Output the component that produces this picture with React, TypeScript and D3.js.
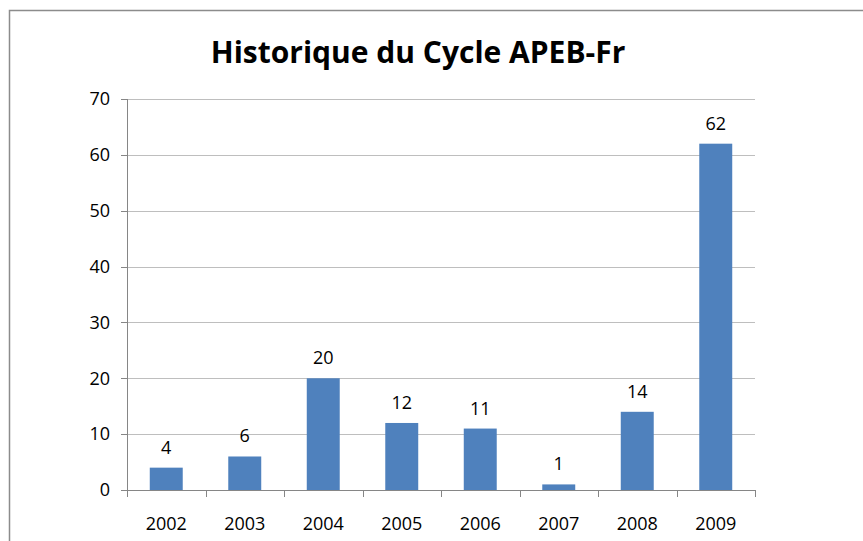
import React, { useEffect, useRef } from "react";
import * as d3 from "d3";

const years = ["2002", "2003", "2004", "2005", "2006", "2007", "2008", "2009"];
const counts = [4, 6, 20, 12, 11, 1, 14, 62];
const yTicks = [0, 10, 20, 30, 40, 50, 60, 70];
const chartTitle = "Historique du Cycle APEB-Fr";

export default function App() {
    const ref = useRef<SVGSVGElement | null>(null);

    useEffect(() => {
        const svg = d3.select(ref.current);
        svg.selectAll("*").remove();

        const W = 863;
        const H = 541;
        const left = 127;
        const right = 755;
        const top = 99;
        const bottom = 490;
        const font = "Open Sans, sans-serif";
        const labelSize = 18;

        // outer chart frame (runs off the right and bottom edges)
        svg.append("rect")
            .attr("x", 9.5)
            .attr("y", 10.5)
            .attr("width", W + 20)
            .attr("height", H + 20)
            .attr("fill", "#fff")
            .attr("stroke", "#8c8c8c")
            .attr("stroke-width", 1.5);

        svg.append("text")
            .attr("x", 418)
            .attr("y", 63)
            .attr("text-anchor", "middle")
            .attr("font-family", font)
            .attr("font-weight", "bold")
            .attr("font-size", 30)
            .attr("fill", "#000")
            .text(chartTitle);

        const x = d3.scaleBand().domain(years).range([left, right]).paddingInner(0.58).paddingOuter(0.29);
        const band = d3.scaleBand().domain(years).range([left, right]);
        const y = d3.scaleLinear().domain([0, 70]).range([bottom, top]);

        // gridlines
        svg.append("g")
            .selectAll("line")
            .data(yTicks.filter((t) => t > 0))
            .join("line")
            .attr("x1", left)
            .attr("x2", right)
            .attr("y1", (d) => Math.round(y(d)) + 0.5)
            .attr("y2", (d) => Math.round(y(d)) + 0.5)
            .attr("stroke", "#bebebe")
            .attr("stroke-width", 1);

        // bars
        svg.append("g")
            .selectAll("rect")
            .data(counts)
            .join("rect")
            .attr("x", (d, i) => x(years[i]) as number)
            .attr("width", x.bandwidth())
            .attr("y", (d) => y(d))
            .attr("height", (d) => bottom - y(d))
            .attr("fill", "#4f81bd");

        // value labels
        svg.append("g")
            .selectAll("text")
            .data(counts)
            .join("text")
            .attr("x", (d, i) => (x(years[i]) as number) + x.bandwidth() / 2)
            .attr("y", (d) => y(d) - 14)
            .attr("text-anchor", "middle")
            .attr("font-family", font)
            .attr("font-size", labelSize)
            .attr("fill", "#000")
            .text((d) => d);

        // y axis
        const yAxis = svg.append("g");
        yAxis.append("line")
            .attr("x1", left + 0.5)
            .attr("x2", left + 0.5)
            .attr("y1", top)
            .attr("y2", bottom)
            .attr("stroke", "#868686");
        yAxis.selectAll("line.tick")
            .data(yTicks)
            .join("line")
            .attr("class", "tick")
            .attr("x1", left - 6)
            .attr("x2", left)
            .attr("y1", (d) => Math.round(y(d)) + 0.5)
            .attr("y2", (d) => Math.round(y(d)) + 0.5)
            .attr("stroke", "#868686");
        yAxis.selectAll("text")
            .data(yTicks)
            .join("text")
            .attr("x", 110)
            .attr("y", (d) => y(d))
            .attr("dy", "0.35em")
            .attr("text-anchor", "end")
            .attr("font-family", font)
            .attr("font-size", labelSize)
            .attr("fill", "#000")
            .text((d) => d);

        // x axis
        const xAxis = svg.append("g");
        xAxis.append("line")
            .attr("x1", left)
            .attr("x2", right)
            .attr("y1", bottom + 0.5)
            .attr("y2", bottom + 0.5)
            .attr("stroke", "#868686");
        xAxis.selectAll("line.tick")
            .data([...years.map((yr) => band(yr) as number), right])
            .join("line")
            .attr("class", "tick")
            .attr("x1", (d) => Math.round(d) + 0.5)
            .attr("x2", (d) => Math.round(d) + 0.5)
            .attr("y1", bottom)
            .attr("y2", bottom + 7)
            .attr("stroke", "#868686");
        xAxis.selectAll("text")
            .data(years)
            .join("text")
            .attr("x", (d) => (band(d) as number) + band.bandwidth() / 2)
            .attr("y", 530)
            .attr("text-anchor", "middle")
            .attr("font-family", font)
            .attr("font-size", labelSize)
            .attr("fill", "#000")
            .text((d) => d);
    }, []);

    return (
        <svg
            ref={ref}
            width={863}
            height={541}
            style={{ position: "absolute", left: 0, top: 0, display: "block", background: "#fff" }}
        ></svg>
    );
}
